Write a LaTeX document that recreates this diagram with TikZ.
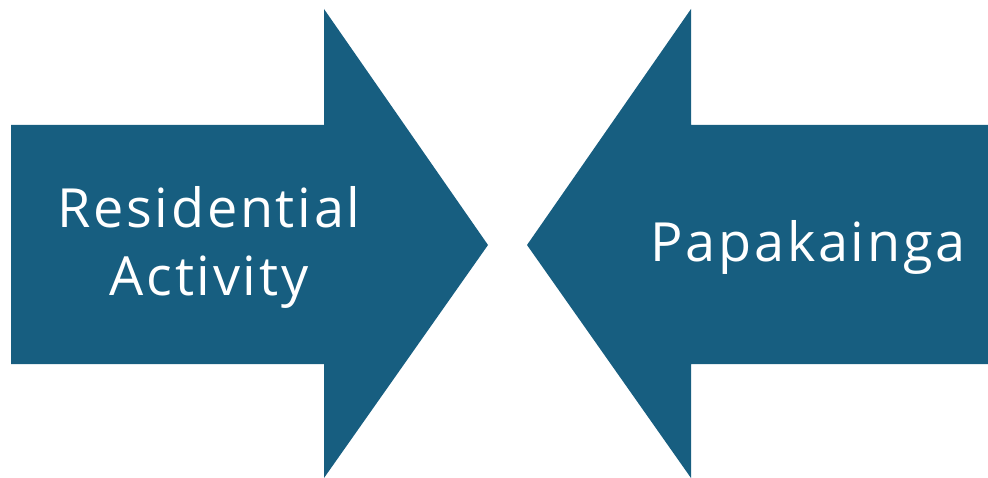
\documentclass[tikz,border=0pt]{standalone}
\usepackage{fontspec}
\setmainfont[LetterSpace=5]{Open Sans}
\definecolor{arrowblue}{RGB}{23,94,128}
\begin{document}
\begin{tikzpicture}[x=1pt,y=-1pt,line join=miter]
\tikzset{label text/.style={text=white, align=center, font=\fontsize{54}{68}\selectfont}}
\useasboundingbox (0,0) rectangle (988,478);
% left arrow
\fill[arrowblue] (11,125) -- (324,125) -- (324,9) -- (488,245) -- (324,478) -- (324,364) -- (11,364) -- cycle;
% right arrow
\fill[arrowblue] (988,125) -- (691,125) -- (691,9) -- (527,245) -- (691,478) -- (691,364) -- (988,364) -- cycle;
\node[label text] (resid) at (209,247) {Residential\\Activity};
\node[label text] (papa) at (808,247) {Papakainga};
\end{tikzpicture}
\end{document}
